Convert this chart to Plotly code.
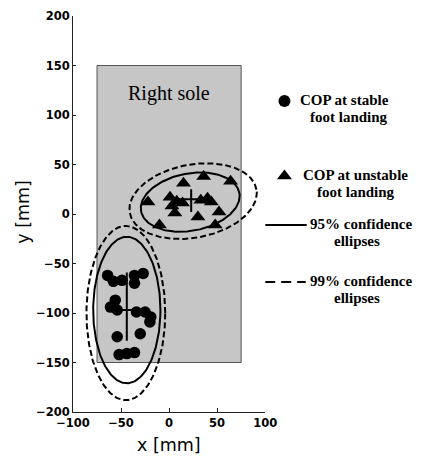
import numpy as np
import plotly.graph_objects as go

# Sole outline in mm
sole_x = [-75, 75]
sole_y = [-150, 150]

# COP positions at stable foot landing (mm)
stable_x = [-64, -58, -49, -36, -27, -36, -56, -61, -54, -34, -25, -19, -20, -54, -30, -52, -44, -36]
stable_y = [-62, -68, -67, -62, -60, -70, -87, -94, -97, -99, -99, -104, -109, -124, -121, -142, -141, -140]

# COP positions at unstable foot landing (mm)
unstable_x = [-22, -10, 1, 8, 14, 3, 6, 15, 36, 64, 33, 40, 44, 30, 52, 48]
unstable_y = [12, -11, 17, 13, 11, 8, 1, 31, 38, 33, 14, 16, 12, -3, 2, -11]

# Mean +/- SD crosses
stable_hbar_x = [-57, -20]
stable_hbar_y = -97
stable_vbar_x = -44
stable_vbar_y = [-128, -59]
unstable_hbar_x = [5, 41]
unstable_hbar_y = 15
unstable_vbar_x = 23
unstable_vbar_y = [2, 25]

# Confidence ellipses: centre x, centre y, semi-axis a, semi-axis b, rotation (deg)
stable_ell95 = [-44, -97, 35, 74, 0]
stable_ell99 = [-45, -100, 41, 88, 0]
unstable_ell95 = [22, 12, 52, 29, 10]
unstable_ell99 = [25, 13, 67, 37, 10]

x_ticks = [-100, -50, 0, 50, 100]
y_ticks = [-200, -150, -100, -50, 0, 50, 100, 150, 200]


def ellipse(params, n=240):
    cx, cy, a, b, ang = params
    t = np.linspace(0, 2 * np.pi, n)
    th = np.deg2rad(ang)
    ex = cx + a * np.cos(t) * np.cos(th) - b * np.sin(t) * np.sin(th)
    ey = cy + a * np.cos(t) * np.sin(th) + b * np.sin(t) * np.cos(th)
    return ex, ey


fig = go.Figure()

# Sole
fig.add_trace(go.Scatter(
    x=[sole_x[0], sole_x[1], sole_x[1], sole_x[0], sole_x[0]],
    y=[sole_y[0], sole_y[0], sole_y[1], sole_y[1], sole_y[0]],
    mode="lines", fill="toself", fillcolor="#c6c6c6",
    line=dict(color="#555555", width=1), hoverinfo="skip"))

# Ellipses
for p, dash in [(stable_ell95, "solid"), (stable_ell99, "6px,3px"),
                (unstable_ell95, "solid"), (unstable_ell99, "6px,3px")]:
    ex, ey = ellipse(p)
    fig.add_trace(go.Scatter(x=ex, y=ey, mode="lines",
                             line=dict(color="black", width=2, dash=dash),
                             hoverinfo="skip"))

# Points
fig.add_trace(go.Scatter(x=stable_x, y=stable_y, mode="markers",
                         marker=dict(symbol="circle", size=11.5, color="black")))
fig.add_trace(go.Scatter(x=unstable_x, y=unstable_y, mode="markers",
                         marker=dict(symbol="triangle-up", size=13, color="black")))

# Crosses
for hx, hy, vx, vy in [(stable_hbar_x, stable_hbar_y, stable_vbar_x, stable_vbar_y),
                       (unstable_hbar_x, unstable_hbar_y, unstable_vbar_x, unstable_vbar_y)]:
    fig.add_trace(go.Scatter(x=hx, y=[hy, hy], mode="lines",
                             line=dict(color="black", width=2), hoverinfo="skip"))
    fig.add_trace(go.Scatter(x=[vx, vx], y=vy, mode="lines",
                             line=dict(color="black", width=2), hoverinfo="skip"))

# Key drawn in pixel-like coordinates on a hidden side axis
fig.add_trace(go.Scatter(x=[292], y=[101], mode="markers", xaxis="x2", yaxis="y2",
                         marker=dict(symbol="circle", size=12, color="black")))
fig.add_trace(go.Scatter(x=[292], y=[176], mode="markers", xaxis="x2", yaxis="y2",
                         marker=dict(symbol="triangle-up", size=13, color="black")))
fig.add_trace(go.Scatter(x=[272, 315], y=[225, 225], mode="lines", xaxis="x2", yaxis="y2",
                         line=dict(color="black", width=2)))
fig.add_trace(go.Scatter(x=[272, 314], y=[282, 282], mode="lines", xaxis="x2", yaxis="y2",
                         line=dict(color="black", width=2, dash="10px,6px")))

key_font = dict(family="Liberation Serif", size=15, color="black", weight="bold")
key_texts = [
    (354, 100, "COP at stable"), (359, 117, "foot landing"),
    (366, 175, "COP at unstable"), (366, 192, "foot landing"),
    (371, 224, "95% confidence"), (367, 241, "ellipses"),
    (371, 281, "99% confidence"), (367, 298, "ellipses"),
]
annotations = [dict(x=x, y=y, xref="x2", yref="y2", text=t, showarrow=False,
                    font=key_font, xanchor="center", yanchor="middle")
               for x, y, t in key_texts]

annotations.append(dict(x=0, y=122, xref="x", yref="y", text="Right sole", showarrow=False,
                        font=dict(family="Liberation Serif", size=20, color="black"),
                        xanchor="center", yanchor="middle"))

plot_w = 422 - 73
xdom = 199 / plot_w
annotations.append(dict(x=(172 - 73) / plot_w, y=(412 - 445) / 396, xref="paper", yref="paper",
                        text="x [mm]", showarrow=False,
                        font=dict(family="DejaVu Sans", size=17.5, color="black"),
                        xanchor="center", yanchor="middle"))
annotations.append(dict(x=(21 - 73) / plot_w, y=(412 - 212) / 396, xref="paper", yref="paper",
                        text="y [mm]", showarrow=False, textangle=-90,
                        font=dict(family="DejaVu Sans", size=17.5, color="black"),
                        xanchor="center", yanchor="middle"))

tick_font = dict(family="DejaVu Sans", size=11.5, color="black", weight="bold")

fig.update_layout(
    width=422, height=457,
    margin=dict(l=73, r=0, t=16, b=45),
    plot_bgcolor="white", paper_bgcolor="white",
    showlegend=False,
    annotations=annotations,
    xaxis=dict(domain=[0, xdom], range=[-100, 100], tickvals=x_ticks,
               showline=True, linecolor="#222222", linewidth=1,
               ticks="inside", ticklen=4, tickcolor="#222222",
               showgrid=False, zeroline=False, tickfont=tick_font),
    yaxis=dict(range=[-200, 200], tickvals=y_ticks,
               showline=True, linecolor="#222222", linewidth=1,
               ticks="inside", ticklen=3, tickcolor="#222222",
               showgrid=False, zeroline=False, tickfont=tick_font),
    xaxis2=dict(domain=[xdom, 1], range=[272, 422], visible=False, anchor="y2"),
    yaxis2=dict(domain=[0, 1], range=[412, 16], visible=False, anchor="x2"),
)

fig.write_html("out.html")
